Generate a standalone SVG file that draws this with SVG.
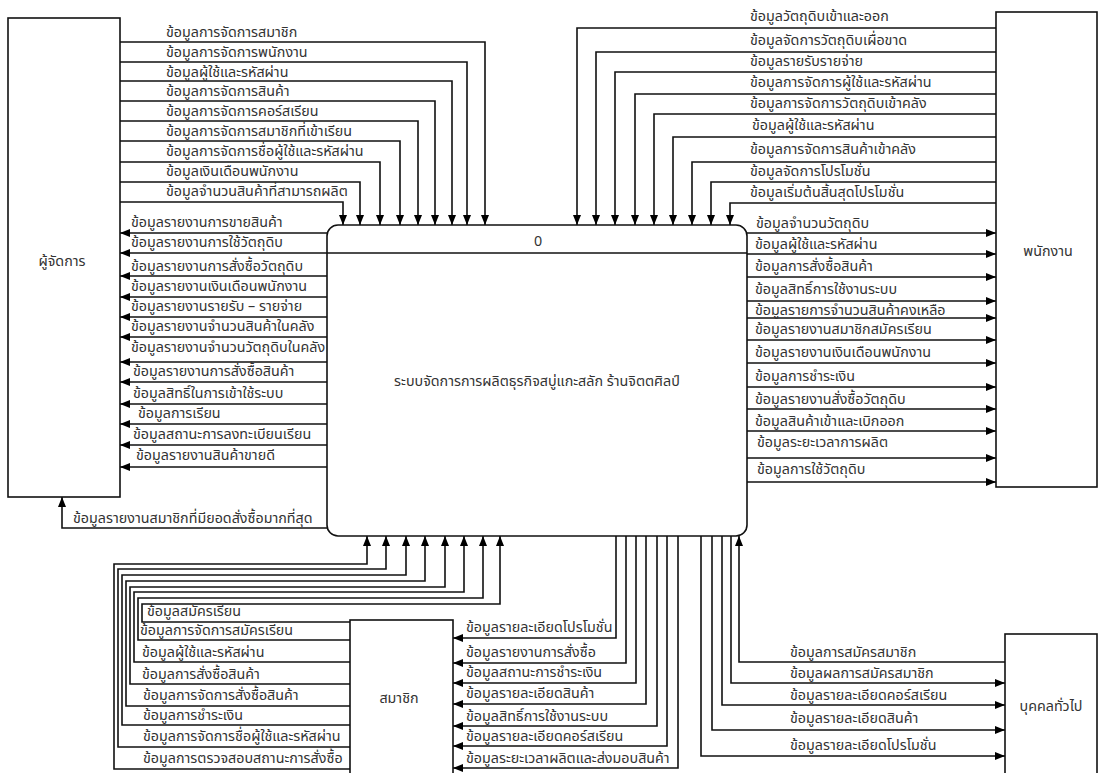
<svg xmlns="http://www.w3.org/2000/svg" width="1105" height="773" viewBox="0 0 1105 773">
<style>
.t{font-family:"Noto Sans Thai","Noto Sans","DejaVu Sans",sans-serif;font-size:14.3px;fill:#333}
.n{font-family:"Noto Sans Thai","Noto Sans","DejaVu Sans",sans-serif;font-size:14.3px;fill:#333;text-anchor:middle}
.c{fill:none;stroke:#111;stroke-width:1.6;marker-end:url(#a)}
.b{fill:#fff;stroke:#111;stroke-width:1.6}
</style>
<defs>
<marker id="a" viewBox="0 0 10 8" refX="10" refY="4" markerWidth="11" markerHeight="8" markerUnits="userSpaceOnUse" orient="auto"><path d="M0,0 L10,4 L0,8 z" fill="#000"/></marker>
</defs>
<rect width="1105" height="773" fill="#fff"/>
<g id="connectors">
<path class="c" d="M120,42 H485 V225"/>
<path class="c" d="M120,62 H467 V225"/>
<path class="c" d="M120,81 H452 V225"/>
<path class="c" d="M120,101 H435 V225"/>
<path class="c" d="M120,121 H418 V225"/>
<path class="c" d="M120,141 H400 V225"/>
<path class="c" d="M120,162 H380 V225"/>
<path class="c" d="M120,182 H360 V225"/>
<path class="c" d="M120,202 H343 V225"/>
<path class="c" d="M327,233 H120"/>
<path class="c" d="M327,253 H120"/>
<path class="c" d="M327,276 H120"/>
<path class="c" d="M327,297 H120"/>
<path class="c" d="M327,317 H120"/>
<path class="c" d="M327,337 H120"/>
<path class="c" d="M327,362 H120"/>
<path class="c" d="M327,382 H120"/>
<path class="c" d="M327,404 H120"/>
<path class="c" d="M327,424 H120"/>
<path class="c" d="M327,445 H120"/>
<path class="c" d="M327,467 H120"/>
<path class="c" d="M330,528 H62 V497"/>
<path class="c" d="M996,28 H577 V225"/>
<path class="c" d="M996,52 H596 V225"/>
<path class="c" d="M996,72 H615 V225"/>
<path class="c" d="M996,94 H635 V225"/>
<path class="c" d="M996,114 H654 V225"/>
<path class="c" d="M996,137 H673 V225"/>
<path class="c" d="M996,162 H692 V225"/>
<path class="c" d="M996,182 H711 V225"/>
<path class="c" d="M996,203 H730 V225"/>
<path class="c" d="M747,233 H996"/>
<path class="c" d="M747,254 H996"/>
<path class="c" d="M747,277 H996"/>
<path class="c" d="M747,301 H996"/>
<path class="c" d="M747,318 H996"/>
<path class="c" d="M747,340 H996"/>
<path class="c" d="M747,363 H996"/>
<path class="c" d="M747,387 H996"/>
<path class="c" d="M747,409 H996"/>
<path class="c" d="M747,431 H996"/>
<path class="c" d="M747,458 H996"/>
<path class="c" d="M747,482 H996"/>
<path class="c" d="M350,769 H114 V564 H367 V536"/>
<path class="c" d="M350,747 H118 V569 H386 V536"/>
<path class="c" d="M350,725 H122 V575 H406 V536"/>
<path class="c" d="M350,706 H126 V581 H425 V536"/>
<path class="c" d="M350,684 H130 V587 H445 V536"/>
<path class="c" d="M350,662 H134 V592 H464 V536"/>
<path class="c" d="M350,640 H138 V598 H483 V536"/>
<path class="c" d="M350,622 H142 V604 H500 V536"/>
<path class="c" d="M616,536 V638 H453"/>
<path class="c" d="M626,536 V663 H453"/>
<path class="c" d="M636,536 V683 H453"/>
<path class="c" d="M646,536 V704 H453"/>
<path class="c" d="M657,536 V726 H453"/>
<path class="c" d="M667,536 V746 H453"/>
<path class="c" d="M678,536 V768 H453"/>
<path class="c" d="M1005,662 H739 V536"/>
<path class="c" d="M731,536 V683 H1005"/>
<path class="c" d="M722,536 V705 H1005"/>
<path class="c" d="M712,536 V730 H1005"/>
<path class="c" d="M701,536 V756 H1005"/>
</g>
<g id="labels">
<text class="t" x="166" y="37">ข้อมูลการจัดการสมาชิก</text>
<text class="t" x="166" y="57">ข้อมูลการจัดการพนักงาน</text>
<text class="t" x="166" y="77">ข้อมูลผู้ใช้และรหัสผ่าน</text>
<text class="t" x="166" y="96">ข้อมูลการจัดการสินค้า</text>
<text class="t" x="166" y="116">ข้อมูลการจัดการคอร์สเรียน</text>
<text class="t" x="166" y="136">ข้อมูลการจัดการสมาชิกที่เข้าเรียน</text>
<text class="t" x="166" y="156">ข้อมูลการจัดการชื่อผู้ใช้และรหัสผ่าน</text>
<text class="t" x="166" y="176">ข้อมูลเงินเดือนพนักงาน</text>
<text class="t" x="166" y="196">ข้อมูลจำนวนสินค้าที่สามารถผลิต</text>
<text class="t" x="131" y="227">ข้อมูลรายงานการขายสินค้า</text>
<text class="t" x="131" y="247">ข้อมูลรายงานการใช้วัตถุดิบ</text>
<text class="t" x="131" y="271">ข้อมูลรายงานการสั่งซื้อวัตถุดิบ</text>
<text class="t" x="131" y="291">ข้อมูลรายงานเงินเดือนพนักงาน</text>
<text class="t" x="131" y="311">ข้อมูลรายงานรายรับ – รายจ่าย</text>
<text class="t" x="131" y="331">ข้อมูลรายงานจำนวนสินค้าในคลัง</text>
<text class="t" x="131" y="352">ข้อมูลรายงานจำนวนวัตถุดิบในคลัง</text>
<text class="t" x="133" y="376">ข้อมูลรายงานการสั่งซื้อสินค้า</text>
<text class="t" x="133" y="398">ข้อมูลสิทธิ์ในการเข้าใช้ระบบ</text>
<text class="t" x="138" y="418">ข้อมูลการเรียน</text>
<text class="t" x="133" y="439">ข้อมูลสถานะการลงทะเบียนเรียน</text>
<text class="t" x="136" y="460">ข้อมูลรายงานสินค้าขายดี</text>
<text class="t" x="73" y="523">ข้อมูลรายงานสมาชิกที่มียอดสั่งซื้อมากที่สุด</text>
<text class="t" x="750" y="21">ข้อมูลวัตถุดิบเข้าและออก</text>
<text class="t" x="750" y="45">ข้อมูลจัดการวัตถุดิบเผื่อขาด</text>
<text class="t" x="750" y="66">ข้อมูลรายรับรายจ่าย</text>
<text class="t" x="750" y="87">ข้อมูลการจัดการผู้ใช้และรหัสผ่าน</text>
<text class="t" x="750" y="108">ข้อมูลการจัดการวัตถุดิบเข้าคลัง</text>
<text class="t" x="752" y="130">ข้อมูลผู้ใช้และรหัสผ่าน</text>
<text class="t" x="750" y="154">ข้อมูลการจัดการสินค้าเข้าคลัง</text>
<text class="t" x="750" y="176">ข้อมูลจัดการโปรโมชั่น</text>
<text class="t" x="750" y="197">ข้อมูลเริ่มต้นสิ้นสุดโปรโมชั่น</text>
<text class="t" x="756" y="228">ข้อมูลจำนวนวัตถุดิบ</text>
<text class="t" x="755" y="249">ข้อมูลผู้ใช้และรหัสผ่าน</text>
<text class="t" x="755" y="271">ข้อมูลการสั่งซื้อสินค้า</text>
<text class="t" x="755" y="294">ข้อมูลสิทธิ์การใช้งานระบบ</text>
<text class="t" x="755" y="315">ข้อมูลรายการจำนวนสินค้าคงเหลือ</text>
<text class="t" x="755" y="334">ข้อมูลรายงานสมาชิกสมัครเรียน</text>
<text class="t" x="755" y="357">ข้อมูลรายงานเงินเดือนพนักงาน</text>
<text class="t" x="755" y="381">ข้อมูลการชำระเงิน</text>
<text class="t" x="755" y="404">ข้อมูลรายงานสั่งซื้อวัตถุดิบ</text>
<text class="t" x="755" y="426">ข้อมูลสินค้าเข้าและเบิกออก</text>
<text class="t" x="757" y="447">ข้อมูลระยะเวลาการผลิต</text>
<text class="t" x="757" y="474">ข้อมูลการใช้วัตถุดิบ</text>
<text class="t" x="147" y="616">ข้อมูลสมัครเรียน</text>
<text class="t" x="140" y="635">ข้อมูลการจัดการสมัครเรียน</text>
<text class="t" x="142" y="657">ข้อมูลผู้ใช้และรหัสผ่าน</text>
<text class="t" x="142" y="679">ข้อมูลการสั่งซื้อสินค้า</text>
<text class="t" x="143" y="700">ข้อมูลการจัดการสั่งซื้อสินค้า</text>
<text class="t" x="143" y="720">ข้อมูลการชำระเงิน</text>
<text class="t" x="143" y="741">ข้อมูลการจัดการชื่อผู้ใช้และรหัสผ่าน</text>
<text class="t" x="143" y="763">ข้อมูลการตรวจสอบสถานะการสั่งซื้อ</text>
<text class="t" x="466" y="632">ข้อมูลรายละเอียดโปรโมชั่น</text>
<text class="t" x="466" y="657">ข้อมูลรายงานการสั่งซื้อ</text>
<text class="t" x="466" y="677">ข้อมูลสถานะการชำระเงิน</text>
<text class="t" x="466" y="698">ข้อมูลรายละเอียดสินค้า</text>
<text class="t" x="466" y="721">ข้อมูลสิทธิ์การใช้งานระบบ</text>
<text class="t" x="466" y="741">ข้อมูลรายละเอียดคอร์สเรียน</text>
<text class="t" x="466" y="763">ข้อมูลระยะเวลาผลิตและส่งมอบสินค้า</text>
<text class="t" x="790" y="657">ข้อมูลการสมัครสมาชิก</text>
<text class="t" x="790" y="678">ข้อมูลผลการสมัครสมาชิก</text>
<text class="t" x="790" y="700">ข้อมูลรายละเอียดคอร์สเรียน</text>
<text class="t" x="790" y="723">ข้อมูลรายละเอียดสินค้า</text>
<text class="t" x="790" y="750">ข้อมูลรายละเอียดโปรโมชั่น</text>
</g>
<g id="node-manager">
<rect class="b" x="8" y="18" width="112" height="479"/>
<text class="n" x="62" y="266">ผู้จัดการ</text>
</g>
<g id="node-employee">
<rect class="b" x="996" y="12" width="101" height="475"/>
<text class="n" x="1048" y="256">พนักงาน</text>
</g>
<g id="node-member">
<rect class="b" x="350" y="620" width="103" height="170"/>
<text class="n" x="399" y="703">สมาชิก</text>
</g>
<g id="node-public">
<rect class="b" x="1005" y="634" width="92" height="160"/>
<text class="n" x="1051" y="711">บุคคลทั่วไป</text>
</g>
<g id="node-process">
<rect class="b" x="327" y="225" width="420" height="311" rx="11"/>
<line x1="327" y1="253" x2="747" y2="253" stroke="#111" stroke-width="1.6"/>
<text class="n" x="538" y="246">0</text>
<text class="n" x="537" y="386">ระบบจัดการการผลิตธุรกิจสบู่แกะสลัก ร้านจิตตศิลป์</text>
</g>
</svg>
